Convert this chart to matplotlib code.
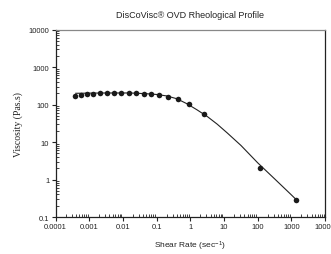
import matplotlib
matplotlib.use("Agg")
import matplotlib.pyplot as plt
from matplotlib.ticker import FixedLocator, LogLocator, NullFormatter

plt.rcParams['font.family'] = ['Liberation Sans', 'DejaVu Sans']
plt.rcParams['mathtext.default'] = 'regular'

# measured points (shear rate 1/s, viscosity Pa.s)
shear_rate = [3.8e-4, 5.6e-4, 8.5e-4, 1.33e-3, 2.1e-3, 3.3e-3, 5.3e-3, 8.9e-3,
              0.0147, 0.025, 0.041, 0.068, 0.12, 0.22, 0.42, 0.89, 2.6, 115, 1350]
viscosity = [168, 177, 186, 195, 201, 207, 207, 207, 207, 203, 195, 188, 177,
             162, 137, 103, 57, 2.0, 0.29]

# fitted curve
fit_rate = [4.0e-4, 3.2e-3, 0.016, 0.05, 0.1, 0.2, 0.4, 0.8, 1.6, 3.2, 6.3,
            12.6, 32, 100, 316, 1000, 1350]
fit_visc = [200, 204, 204, 195, 186, 170, 143, 105, 72, 48, 30, 17.4, 8.1,
            2.8, 1.05, 0.39, 0.30]

x_ticks = [1e-4, 1e-3, 1e-2, 1e-1, 1, 10, 100, 1000, 10000]
x_labels = ['0.0001', '0.001', '0.01', '0.1', '1', '10', '100', '1000', '10000']
y_ticks = [0.1, 1, 10, 100, 1000, 10000]
y_labels = ['0.1', '1', '10', '100', '1000', '10000']

fig = plt.figure(figsize=(3.31, 2.55), dpi=100)
ax = fig.add_axes([0.1677, 0.145, 0.8143, 0.735])

ax.plot(fit_rate, fit_visc, color='#222222', lw=0.8, zorder=2)
ax.plot(shear_rate, viscosity, 'o', color='#1a1a1a', ms=4, mew=0, zorder=3)

ax.set_xscale('log')
ax.set_yscale('log')
ax.set_xlim(1e-4, 1e4)
ax.set_ylim(0.1, 1e4)

ax.xaxis.set_major_locator(FixedLocator(x_ticks))
ax.set_xticklabels(x_labels)
ax.yaxis.set_major_locator(FixedLocator(y_ticks))
ax.set_yticklabels(y_labels)
ax.xaxis.set_minor_locator(LogLocator(base=10, subs=range(2, 10), numticks=20))
ax.yaxis.set_minor_locator(LogLocator(base=10, subs=range(2, 10), numticks=20))
ax.xaxis.set_minor_formatter(NullFormatter())
ax.yaxis.set_minor_formatter(NullFormatter())

ax.tick_params(which='major', direction='out', length=3, width=0.8,
               labelsize=5.5, pad=1.5, colors='#222222')
ax.tick_params(which='minor', direction='in', length=2, width=0.6,
               colors='#222222')
ax.tick_params(top=False, right=False, which='both')

for s in ax.spines.values():
    s.set_linewidth(0.9)
    s.set_color('#222222')
ax.spines['top'].set_color('#888888')

ax.set_title('DisCoVisc® OVD Rheological Profile', fontsize=6.5, pad=9,
             color='#222222')
ax.set_xlabel('Shear Rate (sec$^{-1}$)', fontsize=6, labelpad=6,
              color='#222222')
ax.set_ylabel('Viscosity (Pas.s)', fontsize=7, labelpad=4,
              family=['Liberation Serif'], color='#222222')

fig.savefig('out.png', dpi=100)
